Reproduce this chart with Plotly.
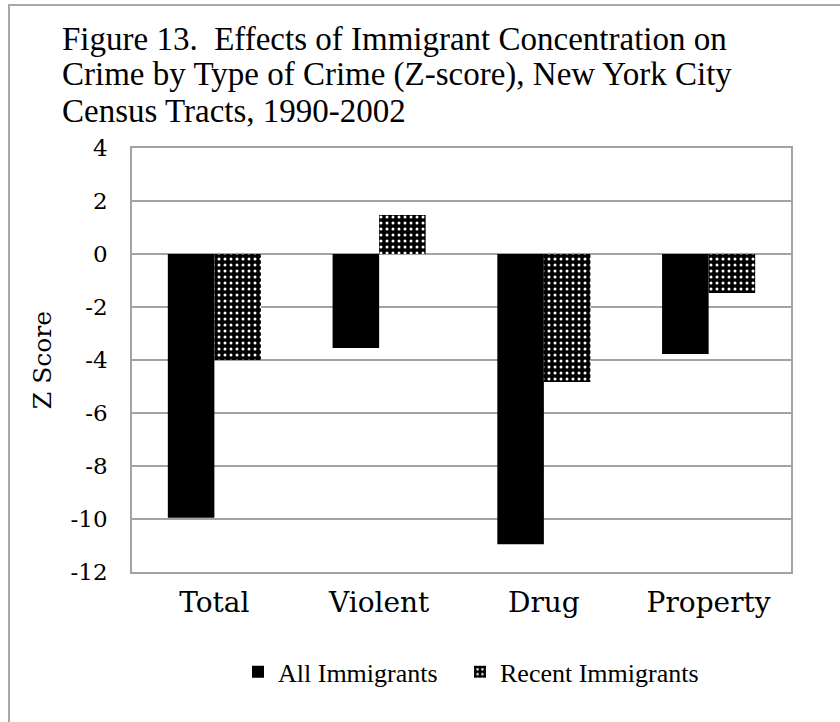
import plotly.graph_objects as go

# Crime categories and z-scores for each immigrant measure
categories = ["Total", "Violent", "Drug", "Property"]
all_immigrants = [-9.95, -3.55, -10.95, -3.77]
recent_immigrants = [-4.0, 1.47, -4.83, -1.47]
y_ticks = [4, 2, 0, -2, -4, -6, -8, -10, -12]
title_lines = [
    "Figure 13.  Effects of Immigrant Concentration on",
    "Crime by Type of Crime (Z-score), New York City",
    "Census Tracts, 1990-2002",
]

serif = "Liberation Serif, Times New Roman, serif"
axis_font = "DejaVu Serif, Cambria, serif"
grid = "#a3a3a3"

fig = go.Figure()
fig.add_trace(go.Bar(
    x=categories, y=all_immigrants, name="All Immigrants",
    marker=dict(color="black", line=dict(width=0)),
    legend="legend", showlegend=True,
))
fig.add_trace(go.Bar(
    x=categories, y=recent_immigrants, name="Recent Immigrants",
    marker=dict(
        color="black", line=dict(width=0),
        pattern=dict(shape=".", fgcolor="white", bgcolor="black",
                     size=6, solidity=0.2, fillmode="replace"),
    ),
    legend="legend2", showlegend=True,
))

# Title: one annotation per line so the line spacing stays tight
title_annotations = [
    dict(text=line, xref="paper", yref="paper",
         x=(60 - 132) / 659, xanchor="left",
         y=(572 - (39 + 36 * i)) / 424, yanchor="middle",
         showarrow=False, font=dict(family=serif, size=33, color="black"))
    for i, line in enumerate(title_lines)
]

legend_style = dict(
    orientation="h", xanchor="left", y=-0.18, yanchor="top",
    font=dict(family=serif, size=26), itemwidth=30,
)

fig.update_layout(
    width=840, height=722,
    margin=dict(l=132, r=49, t=148, b=150),
    paper_bgcolor="white", plot_bgcolor="white",
    barmode="group", bargap=0.435, bargroupgap=0,
    font=dict(family=serif, color="black"),
    showlegend=True,
    annotations=title_annotations,
    xaxis=dict(
        showline=True, mirror=True, linecolor=grid, linewidth=1.5,
        showgrid=False, ticks="", ticklabelstandoff=5,
        tickfont=dict(family=axis_font, size=28),
    ),
    yaxis=dict(
        range=[-12, 4], tickvals=y_ticks, ticktext=[str(v) for v in y_ticks],
        showline=True, mirror=True, linecolor=grid, linewidth=1.5,
        showgrid=True, gridcolor=grid, gridwidth=1.5,
        zeroline=False, ticks="", ticklabelstandoff=18,
        tickfont=dict(family=axis_font, size=23),
        title=dict(text="Z Score", standoff=12,
                   font=dict(family=axis_font, size=25)),
    ),
    legend=dict(x=(238 - 132) / 659, **legend_style),
    legend2=dict(x=(460 - 132) / 659, **legend_style),
    shapes=[dict(
        type="rect", xref="paper", yref="paper",
        x0=(9 - 132) / 659, x1=(860 - 132) / 659,
        y0=-(740 - 572) / 424, y1=(572 - 5) / 424,
        line=dict(color="#a8a8a8", width=2), fillcolor="rgba(0,0,0,0)",
        layer="below",
    )],
)

fig.write_html("out.html")
